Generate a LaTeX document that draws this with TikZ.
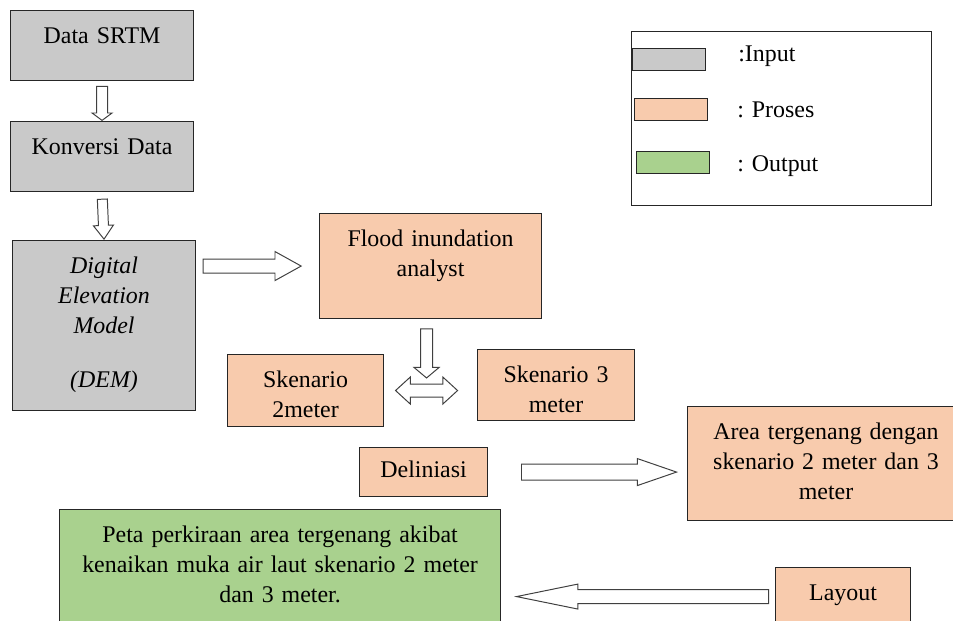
\documentclass[tikz,border=0pt]{standalone}
\usepackage{fontspec}
\setmainfont{Liberation Serif}
\usetikzlibrary{shapes.arrows}

\definecolor{abu}{HTML}{C9C9C9}
\definecolor{jingga}{HTML}{F8CBAD}
\definecolor{hijau}{HTML}{A9D18E}

\tikzstyle{kotak} = [draw=black!85, line width=0.75pt, inner sep=0pt, anchor=north west, align=center, text height=23.5pt]
\tikzstyle{inbox} = [kotak, fill=abu]
\tikzstyle{probox} = [kotak, fill=jingga]
\tikzstyle{outbox} = [kotak, fill=hijau]
\tikzstyle{contoh} = [draw=black!85, line width=0.75pt, inner sep=0pt, anchor=north west, minimum width=1.825cm, minimum height=0.56cm]
\tikzstyle{ket} = [anchor=base west, inner sep=0pt]
\tikzstyle{panah} = [single arrow, draw=black!75, fill=white, line width=0.7pt, inner sep=0pt, minimum width=0pt, sloped, allow upside down, anchor=tip]

\begin{document}
\begin{tikzpicture}[x=0.025cm, y=-0.025cm, font=\fontsize{17}{21.3}\selectfont]
\path[use as bounding box, fill=white] (0,0) rectangle (953,620);
%begin input
\node[inbox, text width=4.575cm, text depth=26.3pt] (srtm) at (10,10) {Data SRTM};
\node[inbox, text width=4.575cm, text depth=26.3pt] (konversi) at (10,121) {Konversi Data};
\node[inbox, text width=4.575cm, text depth=97.4pt] (dem) at (12,240)
    {\itshape Digital\\Elevation\\Model\\[17pt](DEM)};
%end input
%begin proses
\node[probox, text width=5.55cm, text depth=51.2pt] (flood) at (319,213) {Flood inundation\\analyst};
\node[probox, text width=3.9cm, text depth=27.7pt] (sk2) at (227,354) {Skenario\\2meter};
\node[probox, text width=3.925cm, text depth=27pt] (sk3) at (477,349) {Skenario 3\\meter};
\node[probox, text width=3.2cm, text height=21.3pt, text depth=13.6pt] (deli) at (359,447) {Deliniasi};
\node[probox, text width=6.925cm, text depth=57.6pt] (area) at (687,406)
    {Area tergenang dengan\\skenario 2 meter dan 3\\meter};
\node[probox, text width=3.375cm, text depth=17.8pt] (layout) at (775,567) {Layout};
%end proses
%begin output
\node[outbox, text width=11.025cm, text depth=69pt] (peta) at (59,509)
    {Peta perkiraan area tergenang akibat\\kenaikan muka air laut skenario 2 meter\\dan 3 meter.};
%end output
%begin legenda
\node[draw=black!85, line width=0.75pt, inner sep=0pt, anchor=north west,
    minimum width=7.5cm, minimum height=4.35cm] (legenda) at (631,31) {};
\node[contoh, fill=abu] (cin) at (632,48) {};
\node[contoh, fill=jingga] (cpro) at (634,98) {};
\node[contoh, fill=hijau] (cout) at (636,151) {};
\node[ket] (kin) at (738,61) {:Input};
\node[ket] (kpro) at (737,117) {: Proses};
\node[ket] (kout) at (737,171) {: Output};
%end legenda
%begin panah
\path (srtm.south) -- (konversi.north)
    node[panah, pos=1, minimum height=0.85cm, inner ysep=0.125cm,
    single arrow head extend=0.1125cm, single arrow tip angle=107] {};
\path (konversi.south) -- (dem.north)
    node[panah, pos=1, minimum height=1cm, inner ysep=0.1125cm,
    single arrow head extend=0.125cm, single arrow tip angle=72] {};
\path (dem.east |- flood.west) -- (flood.west)
    node[panah, pos=0.863, minimum height=2.45cm, inner ysep=0.1625cm,
    single arrow head extend=0.1875cm, single arrow tip angle=58] {};
\path (sk2.east) -- (sk2.east -| sk3.west)
    node[double arrow, draw=black!75, fill=white, line width=0.7pt, inner sep=0pt,
    minimum width=0pt, pos=0.457, minimum height=1.55cm, inner ysep=0.15cm,
    double arrow head extend=0.175cm, double arrow tip angle=85] (tukar) {};
\path (tukar.center |- flood.south) -- (tukar.center)
    node[panah, pos=0.833, minimum height=1.225cm, inner ysep=0.1375cm,
    single arrow head extend=0.1625cm, single arrow tip angle=100] {};
\path (deli.east) -- (deli.east -| area.west)
    node[panah, pos=0.955, minimum height=3.875cm, inner ysep=0.1875cm,
    single arrow head extend=0.1375cm, single arrow tip angle=38] {};
\path (layout.west) -- (layout.west -| peta.east)
    node[panah, pos=0.953, minimum height=6.3cm, inner ysep=0.1625cm,
    single arrow head extend=0.1375cm, single arrow tip angle=23] {};
%end panah
\end{tikzpicture}
\end{document}
